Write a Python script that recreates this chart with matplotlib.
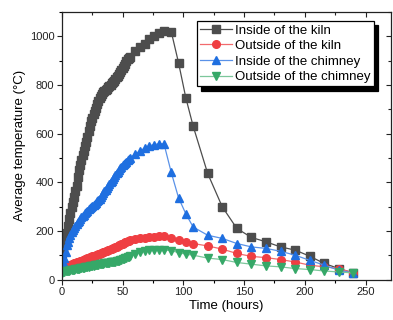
import matplotlib
matplotlib.use("Agg")
import matplotlib.pyplot as plt
from matplotlib.ticker import MultipleLocator

plt.rcParams['font.family'] = ['Liberation Sans', 'DejaVu Sans']

time_h = [0, 1, 2, 3, 4, 5, 6, 7, 8, 9, 10, 11, 12, 13, 14, 15, 16, 17, 18, 19,
          20, 21, 22, 23, 24, 25, 26, 27, 28, 29, 30, 31, 32, 33, 34, 35, 36, 37, 38, 39,
          40, 41, 42, 43, 44, 45, 46, 47, 48, 49, 50, 51, 52, 53, 54, 55, 56,
          60, 64, 68, 72, 76, 80, 84, 90, 96, 102, 108,
          120, 132, 144, 156, 168, 180, 192, 204, 216, 228, 240]

inside_kiln = [110, 125, 140, 165, 190, 220, 250, 275, 300, 320, 340, 362, 385, 420, 450, 470, 490, 510, 530, 548,
               565, 588, 610, 630, 650, 665, 680, 693, 705, 720, 735, 745, 755, 763, 770, 775, 780, 785, 790, 795,
               800, 806, 812, 818, 825, 831, 838, 846, 855, 862, 870, 879, 888, 897, 905, 910, 915,
               938, 955, 970, 990, 1003, 1012, 1023, 1019, 891, 747, 631,
               436, 299, 210, 173, 155, 134, 121, 96, 66, 45, 27]

outside_kiln = [45, 48, 50, 53, 55, 57, 58, 60, 62, 64, 66, 68, 70, 72, 74, 76, 78, 80, 82, 84,
                86, 88, 90, 91, 93, 95, 97, 98, 100, 102, 104, 106, 108, 110, 112, 114, 116, 118, 120, 122,
                124, 126, 128, 130, 133, 135, 138, 140, 143, 145, 148, 150, 153, 155, 158, 160, 162,
                166, 170, 172, 174, 176, 178, 178, 171, 162, 155, 148,
                138, 125, 107, 95, 90, 82, 72, 59, 52, 45, 27]

inside_chimney = [55, 72, 90, 115, 140, 155, 170, 183, 195, 203, 210, 219, 228, 235, 242, 249, 255, 260, 265, 272,
                  278, 283, 288, 293, 297, 301, 305, 310, 315, 321, 327, 333, 340, 347, 355, 362, 370, 377, 385, 392,
                  400, 407, 415, 422, 430, 436, 443, 450, 458, 464, 470, 475, 480, 485, 490, 495, 500,
                  515, 528, 540, 550, 555, 558, 558, 440, 336, 270, 216,
                  182, 169, 148, 134, 128, 116, 100, 79, 59, 38, 27]

outside_chimney = [28, 30, 32, 33, 35, 36, 37, 38, 39, 40, 41, 42, 43, 44, 45, 46, 47, 48, 49, 50,
                   51, 52, 53, 54, 55, 56, 57, 58, 59, 60, 61, 62, 63, 64, 65, 66, 67, 68, 69, 69,
                   70, 71, 72, 73, 74, 75, 76, 78, 80, 82, 84, 86, 88, 90, 92, 94, 97,
                   105, 112, 118, 120, 122, 123, 122, 118, 111, 104, 100,
                   88, 82, 70, 63, 56, 52, 45, 41, 35, 31, 27]

labels = ["Inside of the kiln", "Outside of the kiln", "Inside of the chimney", "Outside of the chimney"]

fig = plt.figure(figsize=(3.93, 3.20), dpi=100)
pos = [62/393, 1 - 279.5/320, (391 - 62)/393, (279.5 - 11.5)/320]
ax = fig.add_axes(pos)

series = [
    (inside_kiln, '#4d4d4d', 's', '#4d4d4d'),
    (outside_kiln, '#ef3e42', 'o', '#f26a6d'),
    (inside_chimney, '#1f6fe0', '^', '#5a92e8'),
    (outside_chimney, '#36a868', 'v', '#7cc79b'),
]
for (vals, col, mk, lcol), lab in zip(series, labels):
    ax.plot(time_h, vals, color=lcol, lw=0.9, marker=mk, markersize=5.5,
            markerfacecolor=col, markeredgecolor=col, label=lab)

ax.set_xlim(0, 271)
ax.set_ylim(0, 1102)
ax.xaxis.set_major_locator(MultipleLocator(50))
ax.xaxis.set_minor_locator(MultipleLocator(25))
ax.yaxis.set_major_locator(MultipleLocator(200))
ax.yaxis.set_minor_locator(MultipleLocator(100))
ax.tick_params(which='major', direction='out', length=3.5, width=0.8, labelsize=8, pad=2, colors='#222222')
ax.tick_params(which='minor', direction='out', length=2, width=0.8)
for s in ax.spines.values():
    s.set_linewidth(0.9)
    s.set_color('#222222')

ax2 = fig.add_axes(pos, frameon=False)
ax2.set_xlim(ax.get_xlim())
ax2.set_ylim(ax.get_ylim())
ax2.xaxis.set_major_locator(MultipleLocator(50))
ax2.xaxis.set_minor_locator(MultipleLocator(25))
ax2.yaxis.set_major_locator(MultipleLocator(200))
ax2.yaxis.set_minor_locator(MultipleLocator(100))
ax2.xaxis.tick_top()
ax2.yaxis.tick_right()
ax2.tick_params(which='both', direction='in', labeltop=False, labelright=False,
                labelbottom=False, labelleft=False, width=0.8, colors='#222222')
ax2.tick_params(which='major', length=3.5)
ax2.tick_params(which='minor', length=2)
ax2.patch.set_visible(False)

ax.set_xlabel("Time (hours)", fontsize=9.5, labelpad=2)
ax.set_ylabel("Average temperature (°C)", fontsize=9.5, labelpad=3)

leg = ax.legend(loc='upper left', bbox_to_anchor=((197 - 62)/329, 1 - (21 - 11.5)/268),
                fontsize=9.5, frameon=True, fancybox=False, handlelength=2.4,
                handletextpad=0.25, borderpad=0.25, labelspacing=0.25, borderaxespad=0,
                shadow={'color': 'black', 'alpha': 1, 'ox': 3, 'oy': -3})
leg.get_frame().set_edgecolor('black')
leg.get_frame().set_linewidth(0.9)

fig.savefig("out.png", dpi=100)
